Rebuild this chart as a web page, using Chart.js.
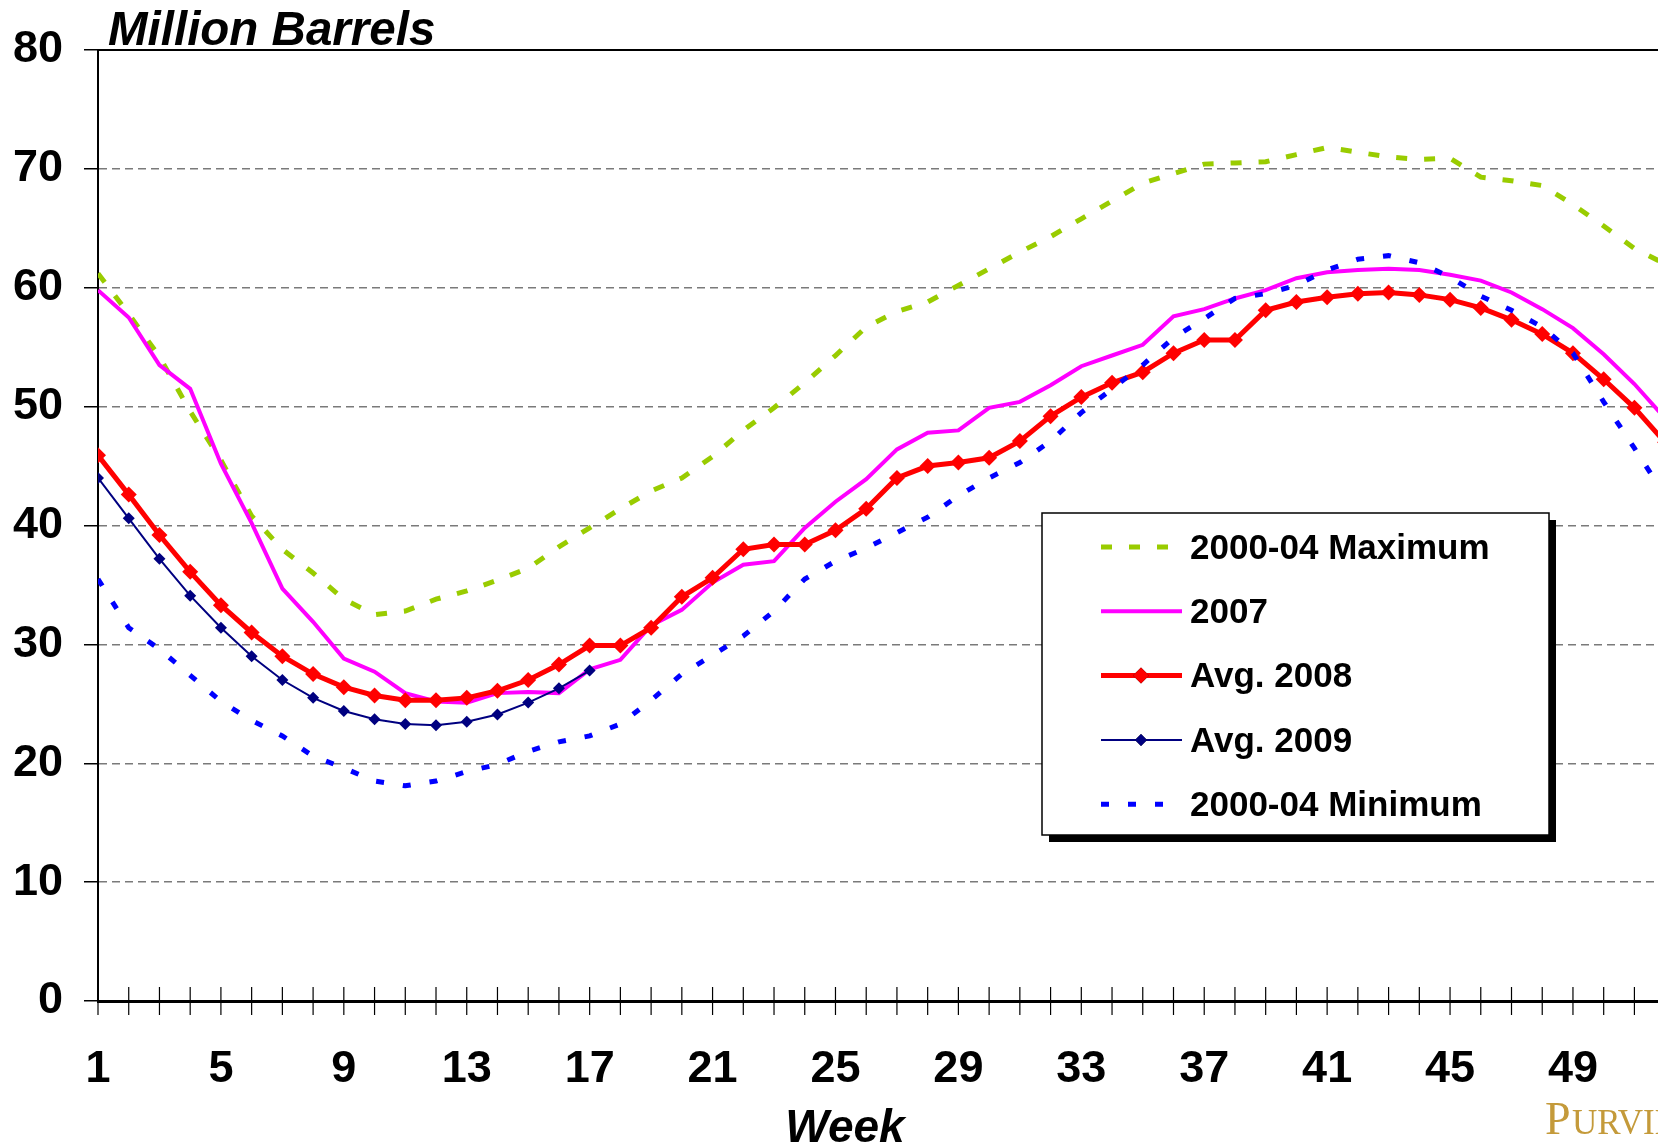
<!DOCTYPE html>
<html>
<head>
<meta charset="utf-8">
<title>Million Barrels</title>
<script src="https://cdn.jsdelivr.net/npm/chart.js@4.4.1/dist/chart.umd.min.js"></script>
<style>
  body { margin: 0; background: #fff; overflow: hidden; }
  #caixa { width: 1667px; height: 1147px; position: relative; }
</style>
</head>
<body>
<div id="caixa"><canvas id="grafico"></canvas></div>
<script>
// semanas do ano
const semanas = [1, 2, 3, 4, 5, 6, 7, 8, 9, 10, 11, 12, 13, 14, 15, 16, 17, 18, 19, 20,
  21, 22, 23, 24, 25, 26, 27, 28, 29, 30, 31, 32, 33, 34, 35, 36, 37, 38, 39, 40,
  41, 42, 43, 44, 45, 46, 47, 48, 49, 50, 51, 52];

// estoques em milhoes de barris
const max0004 = [61.2, 57.8, 54.2, 49.6, 45.5, 40.8, 38.0, 36.0, 33.8, 32.5, 32.8, 33.8, 34.5, 35.4, 36.4, 38.2, 39.8, 41.4, 42.9, 44.0,
  45.8, 48.0, 49.9, 52.0, 54.3, 56.7, 58.0, 58.8, 60.2, 61.6, 63.0, 64.3, 65.8, 67.3, 68.8, 69.6, 70.4, 70.5, 70.6, 71.2,
  71.8, 71.4, 71.0, 70.8, 70.9, 69.3, 69.0, 68.6, 67.0, 65.2, 63.3, 62.0];
const ano2007 = [59.8, 57.5, 53.5, 51.5, 45.2, 40.2, 34.7, 31.9, 28.8, 27.7, 25.9, 25.2, 25.1, 25.9, 26.0, 25.9, 27.9, 28.7, 31.6, 32.9,
  35.2, 36.7, 37.0, 39.8, 42.0, 43.9, 46.4, 47.8, 48.0, 49.9, 50.4, 51.8, 53.4, 54.3, 55.2, 57.6, 58.2, 59.1, 59.8, 60.8,
  61.3, 61.5, 61.6, 61.5, 61.1, 60.6, 59.6, 58.2, 56.6, 54.4, 51.9, 49.0];
const media2008 = [45.9, 42.6, 39.2, 36.1, 33.3, 31.0, 29.0, 27.5, 26.4, 25.7, 25.3, 25.3, 25.5, 26.1, 27.0, 28.3, 29.9, 29.9, 31.4, 34.0,
  35.6, 38.0, 38.4, 38.4, 39.6, 41.4, 44.0, 45.0, 45.3, 45.7, 47.1, 49.2, 50.8, 52.0, 52.9, 54.5, 55.6, 55.6, 58.1, 58.8,
  59.2, 59.5, 59.6, 59.4, 59.0, 58.3, 57.3, 56.1, 54.5, 52.3, 49.9, 47.0];
const media2009 = [44.0, 40.6, 37.2, 34.1, 31.4, 29.0, 27.0, 25.5, 24.4, 23.7, 23.3, 23.2, 23.5, 24.1, 25.1, 26.3, 27.8];
const min0004 = [35.5, 31.4, 29.6, 27.4, 25.2, 23.6, 22.3, 20.6, 19.6, 18.5, 18.1, 18.5, 19.3, 19.9, 21.0, 21.8, 22.3, 23.3, 25.3, 27.5,
  29.1, 30.7, 32.8, 35.5, 37.0, 38.1, 39.4, 40.7, 42.5, 44.0, 45.3, 47.1, 49.5, 51.5, 53.5, 55.8, 57.4, 59.1, 59.5, 60.2,
  61.5, 62.4, 62.7, 62.1, 60.9, 59.3, 58.1, 56.7, 54.5, 50.4, 46.5, 42.5];

const rotulos = ['2000-04 Maximum', '2007', 'Avg. 2008', 'Avg. 2009', '2000-04 Minimum'];

const fonte = "'Liberation Sans', Arial, sans-serif";

function pontos(valores) {
  return valores.map((v, i) => ({ x: semanas[i], y: v }));
}

// moldura superior, marcas das semanas, legenda e textos
const extras = {
  id: 'extras',
  afterDatasetsDraw(chart) {
    const { ctx, chartArea: a, scales: { x } } = chart;
    ctx.save();
    ctx.strokeStyle = '#000';
    ctx.lineWidth = 2;
    ctx.beginPath();
    ctx.moveTo(a.left, a.top);
    ctx.lineTo(a.right, a.top);
    ctx.stroke();

    ctx.lineWidth = 1.2;
    semanas.forEach(w => {
      const px = x.getPixelForValue(w);
      if (px > a.right) return;
      ctx.beginPath();
      ctx.moveTo(px, a.bottom - 14);
      ctx.lineTo(px, a.bottom + 14);
      ctx.stroke();
    });
    ctx.restore();
  },
  afterDraw(chart) {
    const ctx = chart.ctx;
    ctx.save();

    // legenda
    const bx = 1042, by = 513, bw = 507, bh = 322;
    ctx.fillStyle = '#000';
    ctx.fillRect(bx + 7, by + 7, bw, bh);
    ctx.fillStyle = '#fff';
    ctx.fillRect(bx, by, bw, bh);
    ctx.strokeStyle = '#000';
    ctx.lineWidth = 1.5;
    ctx.strokeRect(bx, by, bw, bh);

    chart.data.datasets.forEach((ds, i) => {
      const yy = 547 + i * 64.3;
      ctx.save();
      ctx.strokeStyle = ds.borderColor;
      ctx.lineWidth = ds.borderWidth;
      ctx.setLineDash(ds.borderDash || []);
      ctx.beginPath();
      ctx.moveTo(1101, yy);
      ctx.lineTo(1182, yy);
      ctx.stroke();
      ctx.restore();
      if (ds.pointRadius > 0) {
        Chart.helpers.drawPoint(ctx, {
          pointStyle: ds.pointStyle, radius: ds.pointRadius, borderWidth: 0, rotation: 0
        }, 1141, yy);
        ctx.fillStyle = ds.borderColor;
        ctx.fill();
      }
      ctx.fillStyle = '#000';
      ctx.font = 'bold 35px ' + fonte;
      ctx.textBaseline = 'middle';
      ctx.textAlign = 'left';
      ctx.fillText(ds.label, 1190, yy + 2);
    });

    // titulos
    ctx.fillStyle = '#000';
    ctx.font = 'italic bold 47.5px ' + fonte;
    ctx.textBaseline = 'alphabetic';
    ctx.textAlign = 'left';
    ctx.fillText('Million Barrels', 108, 45);
    ctx.font = 'italic bold 46px ' + fonte;
    ctx.textAlign = 'center';
    ctx.fillText('Week', 845, 1142);

    // logotipo
    ctx.fillStyle = '#C49A3A';
    ctx.textAlign = 'left';
    ctx.font = "46px 'Liberation Serif', serif";
    ctx.fillText('P', 1545, 1134);
    ctx.font = "35px 'Liberation Serif', serif";
    ctx.fillText('URVIN', 1572, 1134);
    ctx.restore();
  }
};

new Chart(document.getElementById('grafico'), {
  type: 'line',
  data: {
    datasets: [
      {
        label: rotulos[0], data: pontos(max0004),
        borderColor: '#99CC00', borderWidth: 5, borderDash: [11, 17],
        pointRadius: 0, order: 5
      },
      {
        label: rotulos[1], data: pontos(ano2007),
        borderColor: '#FF00FF', borderWidth: 4,
        pointRadius: 0, order: 4
      },
      {
        label: rotulos[2], data: pontos(media2008),
        borderColor: '#FF0000', borderWidth: 5,
        pointStyle: 'rectRot', pointRadius: 8, pointBorderWidth: 0,
        pointBackgroundColor: '#FF0000', order: 3
      },
      {
        label: rotulos[3], data: pontos(media2009),
        borderColor: '#000080', borderWidth: 2,
        pointStyle: 'rectRot', pointRadius: 6, pointBorderWidth: 0,
        pointBackgroundColor: '#000080', order: 2
      },
      {
        label: rotulos[4], data: pontos(min0004),
        borderColor: '#0000FF', borderWidth: 5, borderDash: [8, 19],
        pointRadius: 0, order: 1
      }
    ]
  },
  options: {
    responsive: true,
    maintainAspectRatio: false,
    animation: false,
    layout: { padding: { top: 50, left: 0, right: 0, bottom: 0 } },
    plugins: {
      legend: { display: false },
      tooltip: { enabled: false }
    },
    scales: {
      x: {
        type: 'linear',
        min: 1,
        max: 51.8,
        afterBuildTicks(s) {
          s.ticks = semanas.filter(w => w <= s.max).map(w => ({ value: w }));
        },
        ticks: {
          autoSkip: false,
          maxRotation: 0,
          color: '#000',
          padding: 42,
          font: { family: fonte, size: 45, weight: 'bold' },
          callback: v => ((v - 1) % 4 === 0 ? String(v) : '')
        },
        grid: { display: false, drawTicks: false },
        border: { color: '#000', width: 3 },
        afterFit(s) {
          s.height = 146;
          s.paddingLeft = 0;
          s.paddingRight = 0;
        }
      },
      y: {
        min: 0,
        max: 80,
        ticks: {
          stepSize: 10,
          color: '#000',
          padding: 21,
          font: { family: fonte, size: 45, weight: 'bold' }
        },
        grid: {
          color: c => (c.tick.value === 0 || c.tick.value === 80) ? 'rgba(0,0,0,0)' : '#7a7a7a',
          lineWidth: 1.5,
          tickColor: '#000',
          tickLength: 14
        },
        border: { color: '#000', width: 2, dash: [8, 5] },
        afterFit(s) { s.width = 98; }
      }
    }
  },
  plugins: [extras]
});
</script>
</body>
</html>
